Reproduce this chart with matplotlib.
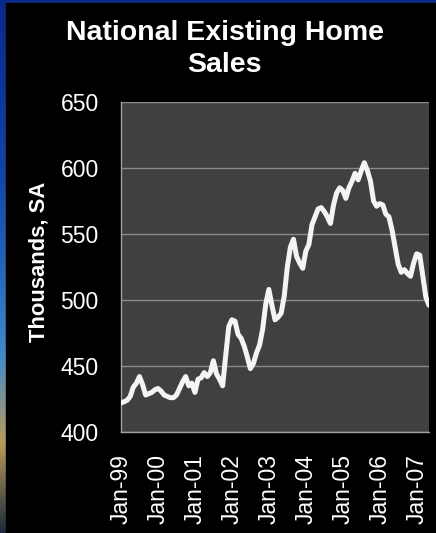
import matplotlib.pyplot as plt
import numpy as np
import pandas as pd
from matplotlib.colors import LinearSegmentedColormap
from matplotlib.patches import Rectangle

plt.rcParams["font.family"] = ["Liberation Sans", "DejaVu Sans"]

# monthly existing home sales, thousands, seasonally adjusted
start_month = "1999-01"
sales = [
    # 1999
    422, 423, 424, 427, 434, 437, 442, 436, 428, 429, 430, 432,
    # 2000
    433, 431, 428, 427, 426, 426, 428, 433, 438, 442, 435, 437,
    # 2001
    430, 440, 441, 445, 442, 445, 454, 444, 440, 435, 458, 480,
    # 2002
    485, 484, 474, 471, 465, 457, 448, 452, 460, 466, 478, 497,
    # 2003
    508, 496, 485, 487, 490, 503, 525, 540, 546, 533, 528, 524,
    # 2004
    537, 542, 557, 563, 569, 570, 567, 563, 558, 572, 581, 585,
    # 2005
    583, 577, 585, 590, 596, 591, 598, 604, 598, 590, 575, 571,
    # 2006
    573, 572, 565, 563, 553, 540, 527, 521, 523, 520, 518, 528,
    # 2007
    535, 534, 518, 502, 496,
]
y_ticks = [400, 450, 500, 550, 600, 650]

months = pd.date_range(start_month, periods=len(sales), freq="MS")
tick_pos = [i for i, m in enumerate(months) if m.month == 1]
tick_labels = [months[i].strftime("%b-%y") for i in tick_pos]

W, H = 436, 533
fig = plt.figure(figsize=(W / 100, H / 100), dpi=100, facecolor="#0b2d8c")

# slide background: blue strip on the left, black panel behind the chart
bg = fig.add_axes([0, 0, 1, 1])
bg.set_xlim(0, W)
bg.set_ylim(H, 0)
bg.axis("off")
strip = LinearSegmentedColormap.from_list(
    "strip",
    ["#0a2a88", "#0d3699", "#1446a6", "#2466b8", "#3f8ccc", "#b89a5a", "#1c2a3a"],
)
bg.imshow(np.linspace(0, 1, 256).reshape(-1, 1), cmap=strip, aspect="auto",
          extent=[0, 6, H, 0], zorder=0)
bg.add_patch(Rectangle((6, 3), W - 6, H - 3, color="black", zorder=1))

ax = fig.add_axes([121 / W, 1 - 432 / H, 308 / W, 330 / H])
ax.set_facecolor("#404040")
ax.plot(range(len(sales)), sales, color="#f4f4f4", lw=3.6,
        solid_joinstyle="round", solid_capstyle="round", zorder=3)

ax.set_xlim(0, len(sales) - 1)
ax.set_ylim(400, 650)
ax.set_yticks(y_ticks)
ax.set_xticks(tick_pos)
ax.set_xticklabels(tick_labels, rotation=90)
ax.tick_params(length=0, labelsize=16.5, labelcolor="white")
ax.tick_params(axis="y", pad=16)
ax.tick_params(axis="x", pad=16)
ax.grid(axis="y", color="#8c8c8c", lw=1)
ax.set_axisbelow(True)
for side in ["top", "right"]:
    ax.spines[side].set_visible(False)
for side in ["left", "bottom"]:
    ax.spines[side].set_color("#a0a0a0")
    ax.spines[side].set_linewidth(1)

ax.set_ylabel("Thousands, SA", fontsize=15.8, fontweight="bold", color="white")
ax.yaxis.set_label_coords(50 / W, 1 - 262 / H, transform=fig.transFigure)

fig.text(224.5 / W, 1 - 49.5 / H, "National Existing Home\nSales", ha="center",
         va="center", fontsize=20.5, fontweight="bold", color="white",
         linespacing=1.3)

fig.savefig("out.png", dpi=100, facecolor=fig.get_facecolor())
